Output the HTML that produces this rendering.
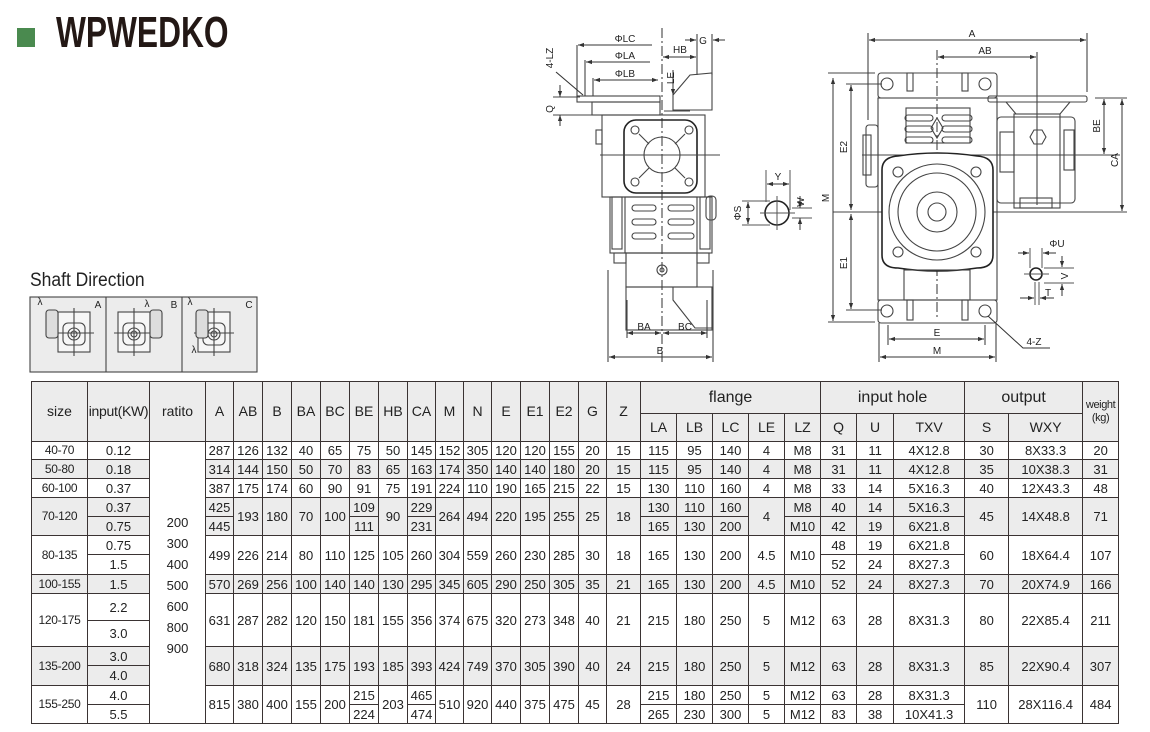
<!DOCTYPE html>
<html><head><meta charset="utf-8">
<style>
*{margin:0;padding:0;box-sizing:border-box}
body{width:1150px;height:732px;background:#fff;position:relative;overflow:hidden;font-family:"Liberation Sans",Arial,sans-serif;color:#222}
#logo{position:absolute;left:17px;top:28px;width:18px;height:19px;background:#4a8a4f}
#title{position:absolute;left:56px;top:8px;font-size:44px;font-weight:bold;color:#231815;transform:scaleX(0.72);transform-origin:0 0;letter-spacing:0}
#sd{position:absolute;left:30px;top:270px;font-size:19px;color:#222;transform:scaleX(0.92);transform-origin:0 0}
table{position:absolute;left:31px;top:381px;border-collapse:collapse;table-layout:fixed;width:1087px}
td{border:1.5px solid #3a3333;text-align:center;vertical-align:middle;font-size:13px;line-height:13px;padding:0;overflow:hidden;white-space:nowrap}
.g td,td.g{background:#ececec}
td.w{background:#fff}
.hd td{background:#ececec;font-size:14px}
.big{font-size:16px!important}
.n{font-size:12px;letter-spacing:-0.3px}
.wt{font-size:11px!important;letter-spacing:-0.4px}
svg{position:absolute;left:0;top:0}
</style></head><body>
<div id="logo"></div>
<div id="title">WPWEDKO</div>
<div id="sd">Shaft Direction</div>

<svg width="1150" height="380" viewBox="0 0 1150 380">
<defs>
<marker id="a" viewBox="0 0 10 10" refX="10" refY="5" markerWidth="6" markerHeight="6" orient="auto-start-reverse"><path d="M0,1.5L10,5L0,8.5z" fill="#333"/></marker>
</defs>
<g fill="none" stroke="#444" stroke-width="1.1">
<rect x="30" y="297" width="227" height="75" fill="#ececec" stroke="#444"/>
<line x1="106" y1="297" x2="106" y2="372" stroke="#444"/>
<line x1="182" y1="297" x2="182" y2="372" stroke="#444"/>
<g id="p1">
<rect x="58" y="312" width="32" height="40" fill="#f6f6f6"/>
<rect x="63" y="323" width="22" height="22" rx="5"/>
<circle cx="74" cy="334" r="6"/><circle cx="74" cy="334" r="3"/>
<line x1="54" y1="333" x2="94" y2="333"/><line x1="74" y1="308" x2="74" y2="356"/>
</g>
<rect x="46" y="310" width="12" height="28" rx="3" fill="#ddd"/>
<use href="#p1" x="60"/>
<rect x="150" y="310" width="12" height="28" rx="3" fill="#ddd"/>
<use href="#p1" x="140"/>
<rect x="196" y="310" width="12" height="28" rx="3" fill="#ddd"/>
<line x1="662" y1="28" x2="662" y2="362" stroke-dasharray="10,3,2,3"/>
<rect x="577" y="96" width="83" height="6"/>
<rect x="592" y="102" width="68" height="13"/>
<path d="M673,110 L673,95 L690,75 L712,73 L712,110z"/>
<rect x="602" y="115" width="103" height="82"/>
<rect x="596" y="130" width="6" height="14"/>
<rect x="624" y="120" width="73" height="73" rx="12" stroke="#222" stroke-width="1.6"/>
<circle cx="662" cy="155" r="18"/>
<g><circle cx="635" cy="130" r="4"/><circle cx="689" cy="130" r="4"/><circle cx="635" cy="182" r="4"/><circle cx="689" cy="182" r="4"/></g>
<path d="M639,134L649,144M685,134L675,144M639,178L649,168M685,178L675,168"/>
<line x1="600" y1="155" x2="720" y2="155"/>
<rect x="610" y="197" width="102" height="56"/>
<rect x="625" y="197" width="72" height="56"/>
<rect x="612" y="197" width="10" height="52"/><rect x="700" y="197" width="10" height="52"/>
<rect x="706" y="196" width="10" height="24" rx="4"/>
<g><rect x="632" y="205" width="24" height="6" rx="3"/><rect x="668" y="205" width="26" height="6" rx="3"/>
<rect x="632" y="219" width="24" height="6" rx="3"/><rect x="668" y="219" width="26" height="6" rx="3"/>
<rect x="632" y="233" width="24" height="6" rx="3"/><rect x="668" y="233" width="26" height="6" rx="3"/></g>
<rect x="614" y="253" width="12" height="10"/><rect x="697" y="253" width="12" height="10"/>
<rect x="626" y="253" width="71" height="34"/>
<circle cx="662" cy="270" r="5"/><circle cx="662" cy="270" r="2"/>
<rect x="626" y="287" width="86" height="43"/>
<path d="M673,287 L712,287 L712,328 L695,328 L673,300z"/>
<line x1="608" y1="270" x2="608" y2="362"/><line x1="713" y1="270" x2="713" y2="362"/>
<line x1="627" y1="300" x2="627" y2="338"/><line x1="707" y1="300" x2="707" y2="338"/>
<line x1="577" y1="45" x2="577" y2="96"/><line x1="585" y1="60" x2="585" y2="96"/><line x1="593" y1="78" x2="593" y2="96"/>
<line x1="697" y1="34" x2="697" y2="75"/><line x1="712" y1="34" x2="712" y2="75"/>
<line x1="553" y1="97" x2="580" y2="97"/><line x1="553" y1="115" x2="600" y2="115"/>
<line x1="556" y1="72" x2="583" y2="95" stroke="#333"/>
<line x1="664" y1="111" x2="690" y2="111"/>
</g>
<g stroke="#333" stroke-width="1" fill="none">
<line x1="578" y1="45" x2="652" y2="45" marker-start="url(#a)"/>
<line x1="586" y1="62" x2="650" y2="62" marker-start="url(#a)"/>
<line x1="594" y1="80" x2="658" y2="80" marker-start="url(#a)" marker-end="url(#a)"/>
<line x1="663" y1="57" x2="696" y2="57" marker-start="url(#a)" marker-end="url(#a)"/>
<line x1="685" y1="40" x2="696" y2="40" marker-end="url(#a)"/><line x1="725" y1="40" x2="713" y2="40" marker-end="url(#a)"/>
<line x1="560" y1="85" x2="560" y2="97" marker-end="url(#a)"/><line x1="560" y1="126" x2="560" y2="115" marker-end="url(#a)"/>
<line x1="673" y1="70" x2="673" y2="95" marker-end="url(#a)"/>
<line x1="627" y1="333" x2="661" y2="333" marker-start="url(#a)" marker-end="url(#a)"/>
<line x1="663" y1="333" x2="707" y2="333" marker-start="url(#a)" marker-end="url(#a)"/>
<line x1="609" y1="357" x2="712" y2="357" marker-start="url(#a)" marker-end="url(#a)"/>
<circle cx="777" cy="213" r="12" stroke="#222" stroke-width="1.6"/>
<line x1="760" y1="213" x2="795" y2="213" stroke="#555"/><line x1="777" y1="196" x2="777" y2="230" stroke="#555"/>
<line x1="766" y1="170" x2="766" y2="202" stroke="#555"/><line x1="790" y1="170" x2="790" y2="210" stroke="#555"/>
<line x1="767" y1="184" x2="789" y2="184" marker-start="url(#a)" marker-end="url(#a)"/>
<line x1="742" y1="201" x2="770" y2="201" stroke="#555"/><line x1="742" y1="225" x2="770" y2="225" stroke="#555"/>
<line x1="748" y1="202" x2="748" y2="224" marker-start="url(#a)" marker-end="url(#a)"/>
<line x1="792" y1="208" x2="812" y2="208" stroke="#555"/><line x1="792" y1="218" x2="812" y2="218" stroke="#555"/>
<line x1="800" y1="196" x2="800" y2="208" marker-end="url(#a)"/><line x1="800" y1="230" x2="800" y2="218" marker-end="url(#a)"/>
</g>
<g fill="none" stroke="#444" stroke-width="1.1">
<line x1="937" y1="50" x2="937" y2="318" stroke-dasharray="10,3,2,3"/>
<line x1="1037" y1="52" x2="1037" y2="205"/>
<line x1="833" y1="212" x2="1127" y2="212"/>
<line x1="862" y1="155" x2="1120" y2="155"/>
<line x1="868" y1="33" x2="868" y2="120"/><line x1="1087" y1="33" x2="1087" y2="92"/>
<line x1="828" y1="73" x2="875" y2="73"/><line x1="846" y1="84" x2="882" y2="84"/>
<line x1="828" y1="322" x2="875" y2="322"/><line x1="846" y1="310" x2="882" y2="310"/>
<line x1="1095" y1="98" x2="1127" y2="98"/>
<rect x="878" y="73" width="119" height="25" rx="3"/>
<rect x="907" y="73" width="6" height="18"/><rect x="962" y="73" width="6" height="18"/>
<circle cx="887" cy="84" r="6"/><circle cx="985" cy="84" r="6"/>
<rect x="878" y="98" width="119" height="202"/>
<rect x="906" y="108" width="64" height="35"/>
<g><rect x="905" y="115" width="28" height="6" rx="3"/><rect x="942" y="115" width="30" height="6" rx="3"/>
<rect x="905" y="126" width="28" height="6" rx="3"/><rect x="942" y="126" width="30" height="6" rx="3"/>
<rect x="905" y="137" width="28" height="6" rx="3"/><rect x="942" y="137" width="30" height="6" rx="3"/></g>
<path d="M931,128 l6,-10 l6,10 l-6,10z"/>
<rect x="866" y="125" width="12" height="62" rx="3"/>
<rect x="863" y="135" width="8" height="40"/>
<path d="M882,170 Q882,157 898,156 Q937,150 977,156 Q993,157 993,170 L993,255 Q993,268 977,268 Q937,274 898,268 Q882,268 882,255z" stroke="#222" stroke-width="1.6" fill="#fff"/>
<circle cx="937" cy="212" r="48"/><circle cx="937" cy="212" r="39"/><circle cx="937" cy="212" r="20"/><circle cx="937" cy="212" r="9"/>
<circle cx="898" cy="172" r="5"/><circle cx="976" cy="172" r="5"/><circle cx="898" cy="252" r="5"/><circle cx="976" cy="252" r="5"/>
<rect x="904" y="270" width="66" height="30"/>
<rect x="878" y="300" width="119" height="23" rx="3"/>
<rect x="907" y="300" width="6" height="20"/><rect x="962" y="300" width="6" height="20"/>
<circle cx="887" cy="311" r="6"/><circle cx="985" cy="311" r="6"/>
<rect x="988" y="96" width="99" height="6" rx="2"/>
<path d="M1006,102 L1016,114 L1060,114 L1070,102"/>
<rect x="997" y="117" width="78" height="86" rx="4"/>
<rect x="1014" y="114" width="46" height="94"/>
<rect x="1000" y="132" width="14" height="40"/>
<rect x="1064" y="130" width="10" height="40"/>
<rect x="1020" y="198" width="32" height="10"/>
<path d="M1030,137 l4,-7 h8 l4,7 l-4,7 h-8z"/>
<line x1="888" y1="325" x2="888" y2="345"/><line x1="985" y1="325" x2="985" y2="345"/>
<line x1="879" y1="323" x2="879" y2="362"/><line x1="996" y1="323" x2="996" y2="362"/>
</g>
<g stroke="#333" stroke-width="1" fill="none">
<line x1="869" y1="40" x2="1086" y2="40" marker-start="url(#a)" marker-end="url(#a)"/>
<line x1="938" y1="57" x2="1036" y2="57" marker-start="url(#a)" marker-end="url(#a)"/>
<line x1="833" y1="78" x2="833" y2="321" marker-start="url(#a)" marker-end="url(#a)"/>
<line x1="851" y1="85" x2="851" y2="210" marker-start="url(#a)" marker-end="url(#a)"/>
<line x1="851" y1="214" x2="851" y2="309" marker-start="url(#a)" marker-end="url(#a)"/>
<line x1="1104" y1="99" x2="1104" y2="154" marker-start="url(#a)" marker-end="url(#a)"/>
<line x1="1122" y1="99" x2="1122" y2="211" marker-start="url(#a)" marker-end="url(#a)"/>
<line x1="889" y1="339" x2="984" y2="339" marker-start="url(#a)" marker-end="url(#a)"/>
<line x1="880" y1="357" x2="995" y2="357" marker-start="url(#a)" marker-end="url(#a)"/>
<polyline points="988,316 1023,348 1050,348"/>
<circle cx="1036" cy="274" r="6" stroke="#222" stroke-width="1.6"/>
<line x1="1024" y1="274" x2="1049" y2="274" stroke="#555"/>
<line x1="1030" y1="248" x2="1030" y2="268" stroke="#555"/><line x1="1042" y1="248" x2="1042" y2="268" stroke="#555"/>
<line x1="1018" y1="253" x2="1029" y2="253" marker-end="url(#a)"/><line x1="1056" y1="253" x2="1043" y2="253" marker-end="url(#a)"/>
<line x1="1044" y1="268" x2="1074" y2="268" stroke="#555"/><line x1="1044" y1="283" x2="1074" y2="283" stroke="#555"/>
<line x1="1062" y1="256" x2="1062" y2="267" marker-end="url(#a)"/><line x1="1062" y1="296" x2="1062" y2="284" marker-end="url(#a)"/>
<line x1="1035" y1="282" x2="1035" y2="305" stroke="#555"/><line x1="1039" y1="282" x2="1039" y2="305" stroke="#555"/>
<line x1="1020" y1="298" x2="1034" y2="298" marker-end="url(#a)"/><line x1="1054" y1="298" x2="1040" y2="298" marker-end="url(#a)"/>
</g>
<g font-family="Liberation Sans, sans-serif" font-size="10" fill="#222" text-anchor="middle">
<text x="625" y="42">ΦLC</text><text x="625" y="59">ΦLA</text><text x="625" y="77">ΦLB</text>
<text x="680" y="53">HB</text><text x="703" y="44">G</text>
<text x="674" y="78" transform="rotate(-90 674 78)">LE</text>
<text x="553" y="58" transform="rotate(-90 553 58)">4-LZ</text>
<text x="553" y="109" transform="rotate(-90 553 109)">Q</text>
<text x="644" y="330">BA</text><text x="685" y="330">BC</text><text x="660" y="354">B</text>
<text x="778" y="180">Y</text>
<text x="741" y="213" transform="rotate(-90 741 213)">ΦS</text>
<text x="804" y="202" transform="rotate(-90 804 202)">W</text>
<text x="829" y="198" transform="rotate(-90 829 198)">M</text>
<text x="972" y="37">A</text><text x="985" y="54">AB</text>
<text x="847" y="147" transform="rotate(-90 847 147)">E2</text>
<text x="847" y="263" transform="rotate(-90 847 263)">E1</text>
<text x="1100" y="126" transform="rotate(-90 1100 126)">BE</text>
<text x="1118" y="160" transform="rotate(-90 1118 160)">CA</text>
<text x="937" y="336">E</text><text x="937" y="354">M</text>
<text x="1034" y="345">4-Z</text>
<text x="1057" y="247">ΦU</text>
<text x="1068" y="276" transform="rotate(-90 1068 276)">V</text>
<text x="1048" y="296">T</text>
<text x="98" y="308">A</text><text x="174" y="308">B</text><text x="249" y="308">C</text>
<text x="40" y="305">λ</text><text x="147" y="307">λ</text><text x="190" y="305">λ</text><text x="194" y="353">λ</text>
</g>
</svg>

<table>
<colgroup>
<col style="width:56px"><col style="width:62px"><col style="width:56px">
<col style="width:28px"><col style="width:29px"><col style="width:29px"><col style="width:29px"><col style="width:29px"><col style="width:29px"><col style="width:29px"><col style="width:28px"><col style="width:28px"><col style="width:28px"><col style="width:29px"><col style="width:29px"><col style="width:29px"><col style="width:28px"><col style="width:34px">
<col style="width:36px"><col style="width:36px"><col style="width:36px"><col style="width:36px"><col style="width:36px">
<col style="width:36px"><col style="width:37px"><col style="width:71px">
<col style="width:44px"><col style="width:74px"><col style="width:36px">
</colgroup>
<tr class="hd" style="height:32px">
<td rowspan="2">size</td><td rowspan="2" class="n">input(KW)</td><td rowspan="2">ratito</td>
<td rowspan="2">A</td><td rowspan="2">AB</td><td rowspan="2">B</td><td rowspan="2">BA</td><td rowspan="2">BC</td><td rowspan="2">BE</td><td rowspan="2">HB</td><td rowspan="2">CA</td><td rowspan="2">M</td><td rowspan="2">N</td><td rowspan="2">E</td><td rowspan="2">E1</td><td rowspan="2">E2</td><td rowspan="2">G</td><td rowspan="2">Z</td>
<td colspan="5" class="big">flange</td><td colspan="3" class="big">input hole</td><td colspan="2" class="big">output</td><td rowspan="2" class="wt">weight<br>(kg)</td>
</tr>
<tr class="hd" style="height:28px"><td>LA</td><td>LB</td><td>LC</td><td>LE</td><td>LZ</td><td>Q</td><td>U</td><td>TXV</td><td>S</td><td>WXY</td></tr>
<tr style="height:18px"><td class="n">40-70</td><td>0.12</td>
<td rowspan="16" class="w" style="line-height:21px;padding-top:6px">200<br>300<br>400<br>500<br>600<br>800<br>900</td>
<td>287</td><td>126</td><td>132</td><td>40</td><td>65</td><td>75</td><td>50</td><td>145</td><td>152</td><td>305</td><td>120</td><td>120</td><td>155</td><td>20</td><td>15</td><td>115</td><td>95</td><td>140</td><td>4</td><td>M8</td><td>31</td><td>11</td><td>4X12.8</td><td>30</td><td>8X33.3</td><td>20</td></tr>
<tr class="g" style="height:19px"><td class="n">50-80</td><td>0.18</td><td>314</td><td>144</td><td>150</td><td>50</td><td>70</td><td>83</td><td>65</td><td>163</td><td>174</td><td>350</td><td>140</td><td>140</td><td>180</td><td>20</td><td>15</td><td>115</td><td>95</td><td>140</td><td>4</td><td>M8</td><td>31</td><td>11</td><td>4X12.8</td><td>35</td><td>10X38.3</td><td>31</td></tr>
<tr style="height:19px"><td class="n">60-100</td><td>0.37</td><td>387</td><td>175</td><td>174</td><td>60</td><td>90</td><td>91</td><td>75</td><td>191</td><td>224</td><td>110</td><td>190</td><td>165</td><td>215</td><td>22</td><td>15</td><td>130</td><td>110</td><td>160</td><td>4</td><td>M8</td><td>33</td><td>14</td><td>5X16.3</td><td>40</td><td>12X43.3</td><td>48</td></tr>
<tr class="g" style="height:19px"><td rowspan="2" class="n">70-120</td><td>0.37</td><td>425</td><td rowspan="2">193</td><td rowspan="2">180</td><td rowspan="2">70</td><td rowspan="2">100</td><td>109</td><td rowspan="2">90</td><td>229</td><td rowspan="2">264</td><td rowspan="2">494</td><td rowspan="2">220</td><td rowspan="2">195</td><td rowspan="2">255</td><td rowspan="2">25</td><td rowspan="2">18</td><td>130</td><td>110</td><td>160</td><td rowspan="2">4</td><td>M8</td><td>40</td><td>14</td><td>5X16.3</td><td rowspan="2">45</td><td rowspan="2">14X48.8</td><td rowspan="2">71</td></tr>
<tr class="g" style="height:19px"><td>0.75</td><td>445</td><td>111</td><td>231</td><td>165</td><td>130</td><td>200</td><td>M10</td><td>42</td><td>19</td><td>6X21.8</td></tr>
<tr style="height:19px"><td rowspan="2" class="n">80-135</td><td>0.75</td><td rowspan="2">499</td><td rowspan="2">226</td><td rowspan="2">214</td><td rowspan="2">80</td><td rowspan="2">110</td><td rowspan="2">125</td><td rowspan="2">105</td><td rowspan="2">260</td><td rowspan="2">304</td><td rowspan="2">559</td><td rowspan="2">260</td><td rowspan="2">230</td><td rowspan="2">285</td><td rowspan="2">30</td><td rowspan="2">18</td><td rowspan="2">165</td><td rowspan="2">130</td><td rowspan="2">200</td><td rowspan="2">4.5</td><td rowspan="2">M10</td><td>48</td><td>19</td><td>6X21.8</td><td rowspan="2">60</td><td rowspan="2">18X64.4</td><td rowspan="2">107</td></tr>
<tr style="height:20px"><td>1.5</td><td>52</td><td>24</td><td>8X27.3</td></tr>
<tr class="g" style="height:19px"><td class="n">100-155</td><td>1.5</td><td>570</td><td>269</td><td>256</td><td>100</td><td>140</td><td>140</td><td>130</td><td>295</td><td>345</td><td>605</td><td>290</td><td>250</td><td>305</td><td>35</td><td>21</td><td>165</td><td>130</td><td>200</td><td>4.5</td><td>M10</td><td>52</td><td>24</td><td>8X27.3</td><td>70</td><td>20X74.9</td><td>166</td></tr>
<tr style="height:27px"><td rowspan="2" class="n">120-175</td><td>2.2</td><td rowspan="2">631</td><td rowspan="2">287</td><td rowspan="2">282</td><td rowspan="2">120</td><td rowspan="2">150</td><td rowspan="2">181</td><td rowspan="2">155</td><td rowspan="2">356</td><td rowspan="2">374</td><td rowspan="2">675</td><td rowspan="2">320</td><td rowspan="2">273</td><td rowspan="2">348</td><td rowspan="2">40</td><td rowspan="2">21</td><td rowspan="2">215</td><td rowspan="2">180</td><td rowspan="2">250</td><td rowspan="2">5</td><td rowspan="2">M12</td><td rowspan="2">63</td><td rowspan="2">28</td><td rowspan="2">8X31.3</td><td rowspan="2">80</td><td rowspan="2">22X85.4</td><td rowspan="2">211</td></tr>
<tr style="height:26px"><td>3.0</td></tr>
<tr class="g" style="height:19px"><td rowspan="2" class="n">135-200</td><td>3.0</td><td rowspan="2">680</td><td rowspan="2">318</td><td rowspan="2">324</td><td rowspan="2">135</td><td rowspan="2">175</td><td rowspan="2">193</td><td rowspan="2">185</td><td rowspan="2">393</td><td rowspan="2">424</td><td rowspan="2">749</td><td rowspan="2">370</td><td rowspan="2">305</td><td rowspan="2">390</td><td rowspan="2">40</td><td rowspan="2">24</td><td rowspan="2">215</td><td rowspan="2">180</td><td rowspan="2">250</td><td rowspan="2">5</td><td rowspan="2">M12</td><td rowspan="2">63</td><td rowspan="2">28</td><td rowspan="2">8X31.3</td><td rowspan="2">85</td><td rowspan="2">22X90.4</td><td rowspan="2">307</td></tr>
<tr class="g" style="height:20px"><td>4.0</td></tr>
<tr style="height:19px"><td rowspan="2" class="n">155-250</td><td>4.0</td><td rowspan="2">815</td><td rowspan="2">380</td><td rowspan="2">400</td><td rowspan="2">155</td><td rowspan="2">200</td><td>215</td><td rowspan="2">203</td><td>465</td><td rowspan="2">510</td><td rowspan="2">920</td><td rowspan="2">440</td><td rowspan="2">375</td><td rowspan="2">475</td><td rowspan="2">45</td><td rowspan="2">28</td><td>215</td><td>180</td><td>250</td><td>5</td><td>M12</td><td>63</td><td>28</td><td>8X31.3</td><td rowspan="2">110</td><td rowspan="2">28X116.4</td><td rowspan="2">484</td></tr>
<tr style="height:19px"><td>5.5</td><td>224</td><td>474</td><td>265</td><td>230</td><td>300</td><td>5</td><td>M12</td><td>83</td><td>38</td><td>10X41.3</td></tr>
</table>
</body></html>
